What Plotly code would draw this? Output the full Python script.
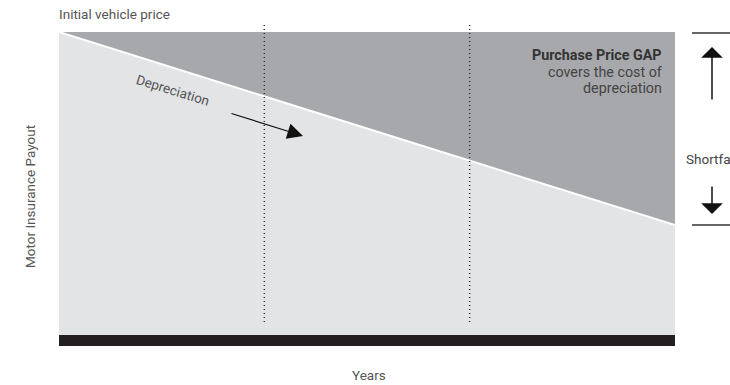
import plotly.graph_objects as go

# ---- data ----
years = [0, 3]                 # time axis (arbitrary years span)
initial_price = [100, 100]     # initial vehicle price (top of GAP area)
vehicle_value = [100, 36.3]    # depreciating value / motor insurance payout
marker_years = [1, 2]          # dotted year markers

W, H = 730, 385
L, R, T, B = 59, 55, 22, 39
PW = W - L - R
PH = H - T - B
Y_MIN, Y_MAX = -3.63, 103.3

def px(x):
    return (x - L) / PW

def py(y):
    return (H - B - y) / PH

DARK = "#a7a8ab"
LIGHT = "#e3e4e6"
FONT = "Roboto"

fig = go.Figure()
fig.add_trace(go.Scatter(x=years, y=initial_price, mode="lines", fill="tozeroy",
                         fillcolor=DARK, line=dict(color=DARK, width=0),
                         hoverinfo="skip", showlegend=False))
fig.add_trace(go.Scatter(x=years, y=vehicle_value, mode="lines", fill="tozeroy",
                         fillcolor=LIGHT, line=dict(color="white", width=2),
                         hoverinfo="skip", showlegend=False))

shapes = []
# black base bar
shapes.append(dict(type="rect", xref="x", yref="y", x0=years[0], x1=years[-1],
                   y0=Y_MIN, y1=0, fillcolor="#231f20", line=dict(width=0), layer="above"))
# dotted year markers
for yr in marker_years:
    shapes.append(dict(type="line", xref="x", yref="y", x0=yr, x1=yr, y0=4.3, y1=103,
                       line=dict(color="#333333", width=1.5, dash="1px,3px"), layer="above"))
# right-side bracket lines
for yy in (33, 225):
    shapes.append(dict(type="line", xref="paper", yref="paper", x0=px(692), x1=px(731),
                       y0=py(yy), y1=py(yy), line=dict(color="#333333", width=1.5)))

annotations = []
def txt(x, y, s, size=12, color="#555555", xanchor="left", angle=0, yanchor="middle"):
    annotations.append(dict(xref="paper", yref="paper", x=px(x), y=py(y), text=s,
                            showarrow=False, xanchor=xanchor, yanchor=yanchor,
                            textangle=angle, font=dict(family=FONT, size=size, color=color)))

txt(57, 14, "Initial vehicle price", size=13.5, color="#555555")
txt(664, 55, "<b>Purchase Price GAP</b>", size=14.3, color="#333333", xanchor="right")
txt(664, 72, "covers the cost of", size=14.3, color="#444444", xanchor="right")
txt(664, 88, "depreciation", size=14.3, color="#444444", xanchor="right")
txt(684, 159, "Shortfall", size=13.5, color="#444444")
txt(173, 90, "Depreciation", size=13.5, color="#555555", xanchor="center", angle=17)
txt(30, 197, "Motor Insurance Payout", size=13.5, color="#555555", xanchor="center", angle=-90)
txt(369, 375, "Years", size=13.5, color="#555555", xanchor="center")

# arrows
def arrow(x_tip, y_tip, x_tail, y_tail, head=1, width=1.5, size=2):
    annotations.append(dict(xref="paper", yref="paper", x=px(x_tip), y=py(y_tip), text="",
                            showarrow=True, axref="pixel", ayref="pixel",
                            ax=x_tail - x_tip, ay=y_tail - y_tip,
                            arrowhead=head, arrowwidth=width, arrowsize=size,
                            arrowcolor="#111111", standoff=0, startstandoff=0))

arrow(712, 47, 712, 101, width=1.5, size=2.4)
arrow(712, 214, 712, 185, width=1.5, size=2.4)
arrow(303, 136, 230, 113, head=2, width=1.2, size=2.6)

fig.update_layout(
    width=W, height=H,
    margin=dict(l=L, r=R, t=T, b=B, pad=0),
    paper_bgcolor="white", plot_bgcolor="white",
    xaxis=dict(range=[years[0], years[-1]], visible=False, fixedrange=True),
    yaxis=dict(range=[Y_MIN, Y_MAX], visible=False, fixedrange=True),
    shapes=shapes, annotations=annotations,
    showlegend=False,
)

fig.write_html("out.html")
